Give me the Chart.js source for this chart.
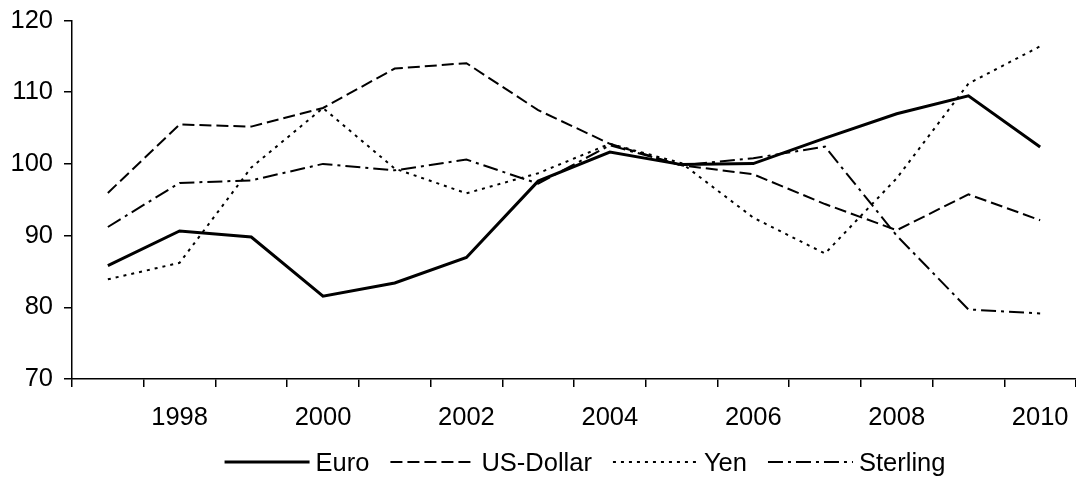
<!DOCTYPE html>
<html>
<head>
<meta charset="utf-8">
<script src="https://cdn.jsdelivr.net/npm/chart.js@4.4.1/dist/chart.umd.min.js"></script>
<style>
  html, body { margin: 0; padding: 0; background: #fff; }
  #wrap { width: 1076px; height: 478px; position: relative; }
</style>
</head>
<body>
<div id="wrap"><canvas id="c"></canvas></div>
<script>
const categories = ['1997','1998','1999','2000','2001','2002','2003','2004','2005','2006','2007','2008','2009','2010'];
const xTickLabels = ['','1998','','2000','','2002','','2004','','2006','','2008','','2010'];
const yTickMin = 70;
const yTickMax = 120;
const yTickStep = 10;

const euro     = [85.8, 90.65, 89.8, 81.55, 83.4, 86.95, 97.6, 101.65, 99.9, 100.05, 103.6, 107.0, 109.5, 102.35];
const usDollar = [95.95, 105.5, 105.2, 107.8, 113.3, 114.05, 107.5, 102.8, 99.8, 98.55, 94.4, 90.75, 95.75, 92.15];
const yen      = [83.9, 86.2, 99.5, 107.8, 99.35, 95.9, 98.7, 102.8, 100.1, 92.5, 87.5, 98.0, 111.2, 116.4];
const sterling = [91.2, 97.35, 97.7, 100.0, 99.1, 100.6, 97.25, 102.6, 99.8, 100.8, 102.4, 90.0, 79.7, 79.15];

const FONT = '"Liberation Sans", Arial, sans-serif';
const FONT_SIZE = 25.5;

const customLegend = {
  id: 'customLegend',
  afterDraw(chart) {
    const ctx = chart.ctx;
    ctx.save();
    ctx.font = FONT_SIZE + 'px ' + FONT;
    ctx.fillStyle = '#000';
    ctx.strokeStyle = '#000';
    ctx.textBaseline = 'alphabetic';
    const lineLen = 85, gap = 6, itemGap = 21;
    const lineY = 462, textY = 471;
    const ds = chart.data.datasets;
    let total = 0;
    ds.forEach((d, i) => {
      total += lineLen + gap + ctx.measureText(d.label).width + (i < ds.length - 1 ? itemGap : 0);
    });
    let x = 585 - total / 2;
    ds.forEach(d => {
      ctx.beginPath();
      ctx.setLineDash(d.borderDash || []);
      ctx.lineWidth = d.borderWidth;
      ctx.lineCap = 'butt';
      ctx.moveTo(x, lineY);
      ctx.lineTo(x + lineLen, lineY);
      ctx.stroke();
      ctx.setLineDash([]);
      x += lineLen + gap;
      ctx.fillText(d.label, x, textY);
      x += ctx.measureText(d.label).width + itemGap;
    });
    ctx.restore();
  }
};

new Chart(document.getElementById('c'), {
  type: 'line',
  data: {
    labels: categories,
    datasets: [
      { label: 'Euro', data: euro, borderColor: '#000', borderWidth: 3, borderDash: [] },
      { label: 'US-Dollar', data: usDollar, borderColor: '#000', borderWidth: 2, borderDash: [12, 5] },
      { label: 'Yen', data: yen, borderColor: '#000', borderWidth: 2, borderDash: [3, 5] },
      { label: 'Sterling', data: sterling, borderColor: '#000', borderWidth: 2, borderDash: [15, 5, 3, 5] }
    ]
  },
  options: {
    responsive: true,
    maintainAspectRatio: false,
    animation: false,
    devicePixelRatio: 1,
    layout: { padding: { top: 20.5, left: 0, right: 0, bottom: 0 } },
    elements: {
      point: { radius: 0, hoverRadius: 0 },
      line: { tension: 0, fill: false, borderCapStyle: 'butt', borderJoinStyle: 'miter' }
    },
    plugins: {
      legend: { display: false },
      tooltip: { enabled: false }
    },
    scales: {
      x: {
        type: 'category',
        offset: true,
        afterFit(scale) { scale.height = 99; scale.paddingLeft = 0; scale.paddingRight = 0; },
        grid: { offset: true, drawOnChartArea: false, drawTicks: true, tickLength: 8, color: '#000', lineWidth: 1.5 },
        border: { display: true, color: '#000', width: 1.5 },
        ticks: {
          autoSkip: false, maxRotation: 0, minRotation: 0, padding: 16,
          color: '#000', font: { family: FONT, size: FONT_SIZE },
          callback: (v, i) => xTickLabels[i]
        }
      },
      y: {
        min: yTickMin, max: yTickMax,
        afterFit(scale) { scale.width = 72; scale.paddingTop = 0; scale.paddingBottom = 0; },
        grid: { drawOnChartArea: false, drawTicks: true, tickLength: 8, color: '#000', lineWidth: 1.5 },
        border: { display: true, color: '#000', width: 1.5 },
        ticks: {
          stepSize: yTickStep, padding: 11,
          color: '#000', font: { family: FONT, size: FONT_SIZE }
        }
      }
    }
  },
  plugins: [customLegend]
});
</script>
</body>
</html>
